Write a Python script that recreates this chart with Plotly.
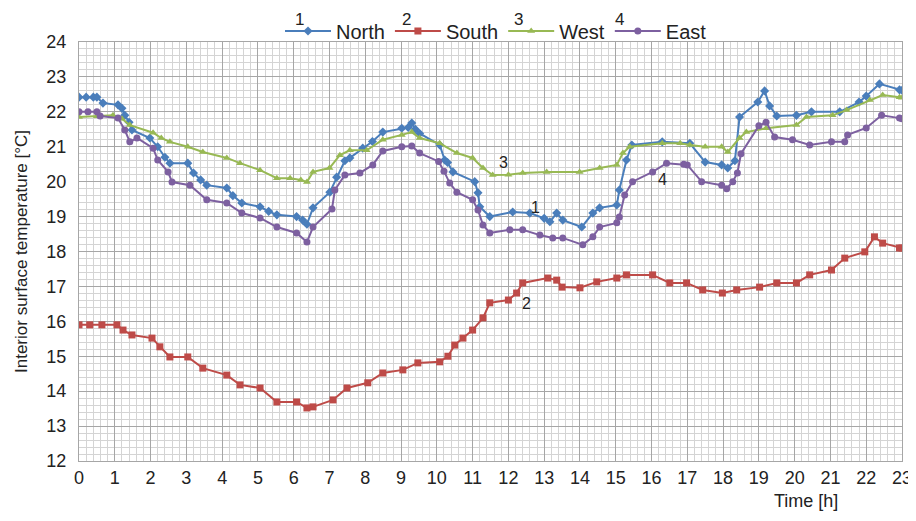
import plotly.graph_objects as go

# ---- data ----
north_t = [0.0, 0.2, 0.4, 0.5, 0.67, 1.09, 1.2, 1.28, 1.4, 1.48, 1.98, 2.2, 2.4, 2.54, 3.04, 3.2, 3.4, 3.57,
           4.13, 4.3, 4.55, 5.06, 5.3, 5.53, 6.08, 6.25, 6.37, 6.54, 7.01, 7.2, 7.43, 7.57, 7.93, 8.2, 8.49,
           9.02, 9.2, 9.3, 9.4, 9.52, 10.08, 10.22, 10.3, 10.45, 11.06, 11.15, 11.2, 11.48, 12.12, 12.6, 13.0,
           13.16, 13.35, 13.52, 14.05, 14.36, 14.55, 15.03, 15.1, 15.3, 15.45, 16.3, 17.07, 17.5, 17.96, 18.13,
           18.33, 18.46, 18.97, 19.16, 19.3, 19.5, 20.05, 20.47, 21.26, 21.8, 22.0, 22.37, 22.93, 23.0]
north_v = [22.42, 22.42, 22.42, 22.42, 22.25, 22.2, 22.1, 21.9, 21.7, 21.48, 21.25, 21.0, 20.7, 20.53, 20.53,
           20.25, 20.05, 19.9, 19.82, 19.6, 19.39, 19.28, 19.15, 19.05, 19.0, 18.9, 18.78, 19.25, 19.7, 20.13,
           20.6, 20.68, 20.96, 21.15, 21.42, 21.53, 21.55, 21.68, 21.5, 21.38, 21.05, 20.62, 20.55, 20.28, 20.0,
           19.68, 19.28, 19.0, 19.13, 19.1, 18.95, 18.85, 19.1, 18.9, 18.7, 19.1, 19.25, 19.33, 19.76, 20.62,
           21.05, 21.14, 21.1, 20.56, 20.48, 20.39, 20.6, 21.85, 22.28, 22.6, 22.17, 21.88, 21.9, 22.0, 22.0,
           22.28, 22.45, 22.8, 22.63, 22.62]

south_t = [0.0, 0.3, 0.64, 1.06, 1.23, 1.48, 2.04, 2.26, 2.54, 3.04, 3.46, 4.13, 4.5, 5.06, 5.53, 6.08, 6.37,
           6.54, 7.1, 7.49, 8.07, 8.49, 9.05, 9.47, 10.08, 10.31, 10.5, 10.73, 11.0, 11.29, 11.48, 12.0, 12.23,
           12.4, 13.1, 13.35, 13.5, 14.0, 14.47, 15.03, 15.3, 16.03, 16.51, 16.98, 17.43, 17.98, 18.38, 19.02,
           19.5, 20.05, 20.42, 21.03, 21.4, 21.96, 22.23, 22.46, 22.93, 23.0]
south_v = [15.9, 15.9, 15.9, 15.9, 15.75, 15.61, 15.52, 15.27, 14.98, 14.98, 14.66, 14.46, 14.18, 14.09, 13.69,
           13.69, 13.52, 13.55, 13.75, 14.09, 14.24, 14.52, 14.61, 14.81, 14.84, 15.0, 15.32, 15.52, 15.75, 16.1,
           16.53, 16.61, 16.81, 17.1, 17.24, 17.18, 16.98, 16.96, 17.13, 17.24, 17.33, 17.33, 17.1, 17.1, 16.9,
           16.81, 16.9, 16.98, 17.1, 17.1, 17.33, 17.47, 17.81, 17.99, 18.42, 18.24, 18.1, 18.1]

west_t = [0.0, 0.5, 0.95, 1.2, 1.42, 2.07, 2.3, 2.54, 3.04, 3.46, 4.13, 4.5, 5.06, 5.53, 5.9, 6.2, 6.37, 6.54,
          7.0, 7.29, 7.57, 8.04, 8.49, 9.02, 9.3, 9.52, 10.08, 10.56, 11.0, 11.29, 11.56, 12.0, 12.4, 13.07,
          13.99, 14.55, 15.03, 15.2, 15.39, 16.3, 16.8, 17.07, 17.5, 17.96, 18.13, 18.46, 18.65, 19.2, 20.05,
          20.33, 21.06, 21.45, 22.1, 22.46, 22.93, 23.0]
west_v = [21.85, 21.87, 21.9, 21.8, 21.62, 21.4, 21.25, 21.14, 21.0, 20.85, 20.68, 20.53, 20.33, 20.1, 20.1,
          20.05, 19.99, 20.28, 20.39, 20.76, 20.9, 20.9, 21.2, 21.34, 21.42, 21.25, 21.1, 20.82, 20.68, 20.39,
          20.19, 20.2, 20.25, 20.28, 20.28, 20.39, 20.48, 20.82, 21.0, 21.1, 21.1, 21.05, 21.0, 21.0, 20.85,
          21.25, 21.42, 21.53, 21.62, 21.85, 21.9, 22.05, 22.34, 22.48, 22.42, 22.4]

east_t = [0.0, 0.25, 0.5, 0.59, 1.09, 1.28, 1.42, 1.62, 2.07, 2.2, 2.49, 2.6, 3.1, 3.57, 4.13, 4.55, 5.06,
          5.53, 6.08, 6.37, 6.54, 7.07, 7.15, 7.43, 7.85, 8.21, 8.49, 9.02, 9.3, 9.52, 10.05, 10.2, 10.36,
          10.56, 11.0, 11.15, 11.29, 11.48, 12.04, 12.4, 12.88, 13.24, 13.52, 14.08, 14.36, 14.55, 15.03,
          15.1, 15.25, 15.47, 16.03, 16.42, 16.9, 17.0, 17.4, 17.96, 18.1, 18.27, 18.4, 18.5, 19.0, 19.2,
          19.44, 19.94, 20.42, 21.03, 21.4, 21.48, 22.0, 22.43, 22.93, 23.0]
east_v = [22.0, 22.0, 22.0, 21.88, 21.82, 21.48, 21.14, 21.25, 20.96, 20.62, 20.28, 19.99, 19.9, 19.48, 19.39,
          19.1, 18.96, 18.7, 18.53, 18.27, 18.7, 19.22, 19.76, 20.19, 20.25, 20.48, 20.88, 21.0, 21.02, 20.82,
          20.58, 20.3, 19.96, 19.7, 19.48, 19.19, 18.76, 18.53, 18.62, 18.62, 18.47, 18.39, 18.39, 18.19,
          18.42, 18.7, 18.82, 18.99, 19.62, 20.0, 20.28, 20.53, 20.5, 20.48, 20.0, 19.9, 19.8, 20.0, 20.25,
          20.8, 21.6, 21.7, 21.28, 21.2, 21.05, 21.14, 21.14, 21.34, 21.54, 21.9, 21.82, 21.8]

x_ticks = list(range(0, 24))
y_ticks = list(range(12, 25))

series = [
    ("North", north_t, north_v, "#4A7EBB", "diamond", 7),
    ("South", south_t, south_v, "#BE4B48", "square", 7),
    ("West", west_t, west_v, "#98B954", "triangle-up", 7),
    ("East", east_t, east_v, "#7D60A0", "circle", 7),
]

# page body has an 8px margin: figure starts at (8, 8) in the screenshot
OFF = 8
W, H = 908, 505
L, T = 79 - OFF, 42 - OFF
R = W - (902 - OFF)
B = H - (461 - OFF)
PW, PH = W - L - R, H - T - B


def px_x(px):
    return (px - OFF - L) / PW


def px_y(py):
    return (H - B - (py - OFF)) / PH


FONT = "Arial, Liberation Sans, sans-serif"
fig = go.Figure()
for name, t, v, col, sym, sz in series:
    fig.add_trace(go.Scatter(x=t, y=v, name=name, mode="lines+markers",
                             line=dict(color=col, width=2),
                             marker=dict(color=col, symbol=sym, size=sz)))

# curve labels
labels = [("1", 12.77, 19.25), ("2", 12.5, 16.5), ("3", 11.85, 20.55), ("4", 16.3, 20.05)]
for txt, lx, ly in labels:
    fig.add_annotation(x=lx, y=ly, text=txt, showarrow=False, xanchor="center", yanchor="middle",
                       font=dict(size=16, color="#222", family=FONT))

# numbers above legend symbols
for txt, px in [("1", 299), ("2", 406), ("3", 518), ("4", 619)]:
    fig.add_annotation(x=px_x(px), y=px_y(19), xref="paper", yref="paper", text=txt,
                       xanchor="center", yanchor="middle",
                       showarrow=False, font=dict(size=17, color="#222", family=FONT))

fig.add_annotation(x=px_x(806), y=px_y(501), xref="paper", yref="paper", text="Time [h]",
                   xanchor="center", yanchor="middle",
                   showarrow=False, font=dict(size=18, color="#222", family=FONT))

grid_major = "#A6A6A6"
grid_minor = "#D4D4D4"
fig.update_layout(
    width=W, height=H,
    margin=dict(l=L, r=R, t=T, b=B, autoexpand=False),
    paper_bgcolor="white", plot_bgcolor="white",
    font=dict(family=FONT, size=17, color="#222"),
    showlegend=True,
    legend=dict(orientation="h", x=(280 - OFF) / W, xanchor="left", y=1 - (31 - OFF) / H, yanchor="middle",
                xref="container", yref="container", font=dict(size=20, color="#222"),
                itemwidth=46, tracegroupgap=0, bgcolor="rgba(0,0,0,0)"),
    xaxis=dict(range=[0, 23], tickvals=x_ticks, showgrid=True, gridcolor=grid_major, gridwidth=1,
               minor=dict(dtick=0.2, showgrid=True, gridcolor=grid_minor, gridwidth=1),
               showline=True, linecolor=grid_major, mirror=True, zeroline=False, automargin=False,
               ticks="", tickfont=dict(size=18), ticklabeloverflow="allow"),
    yaxis=dict(range=[12, 24], tickvals=y_ticks, showgrid=True, gridcolor=grid_major, gridwidth=1,
               minor=dict(dtick=0.2, showgrid=True, gridcolor=grid_minor, gridwidth=1),
               showline=True, linecolor=grid_major, mirror=True, zeroline=False, automargin=False,
               ticks="", tickfont=dict(size=18), ticklabelstandoff=8,
               title=dict(text="Interior surface temperature [°C]", font=dict(size=17), standoff=14)),
)
fig.write_html("out.html")
